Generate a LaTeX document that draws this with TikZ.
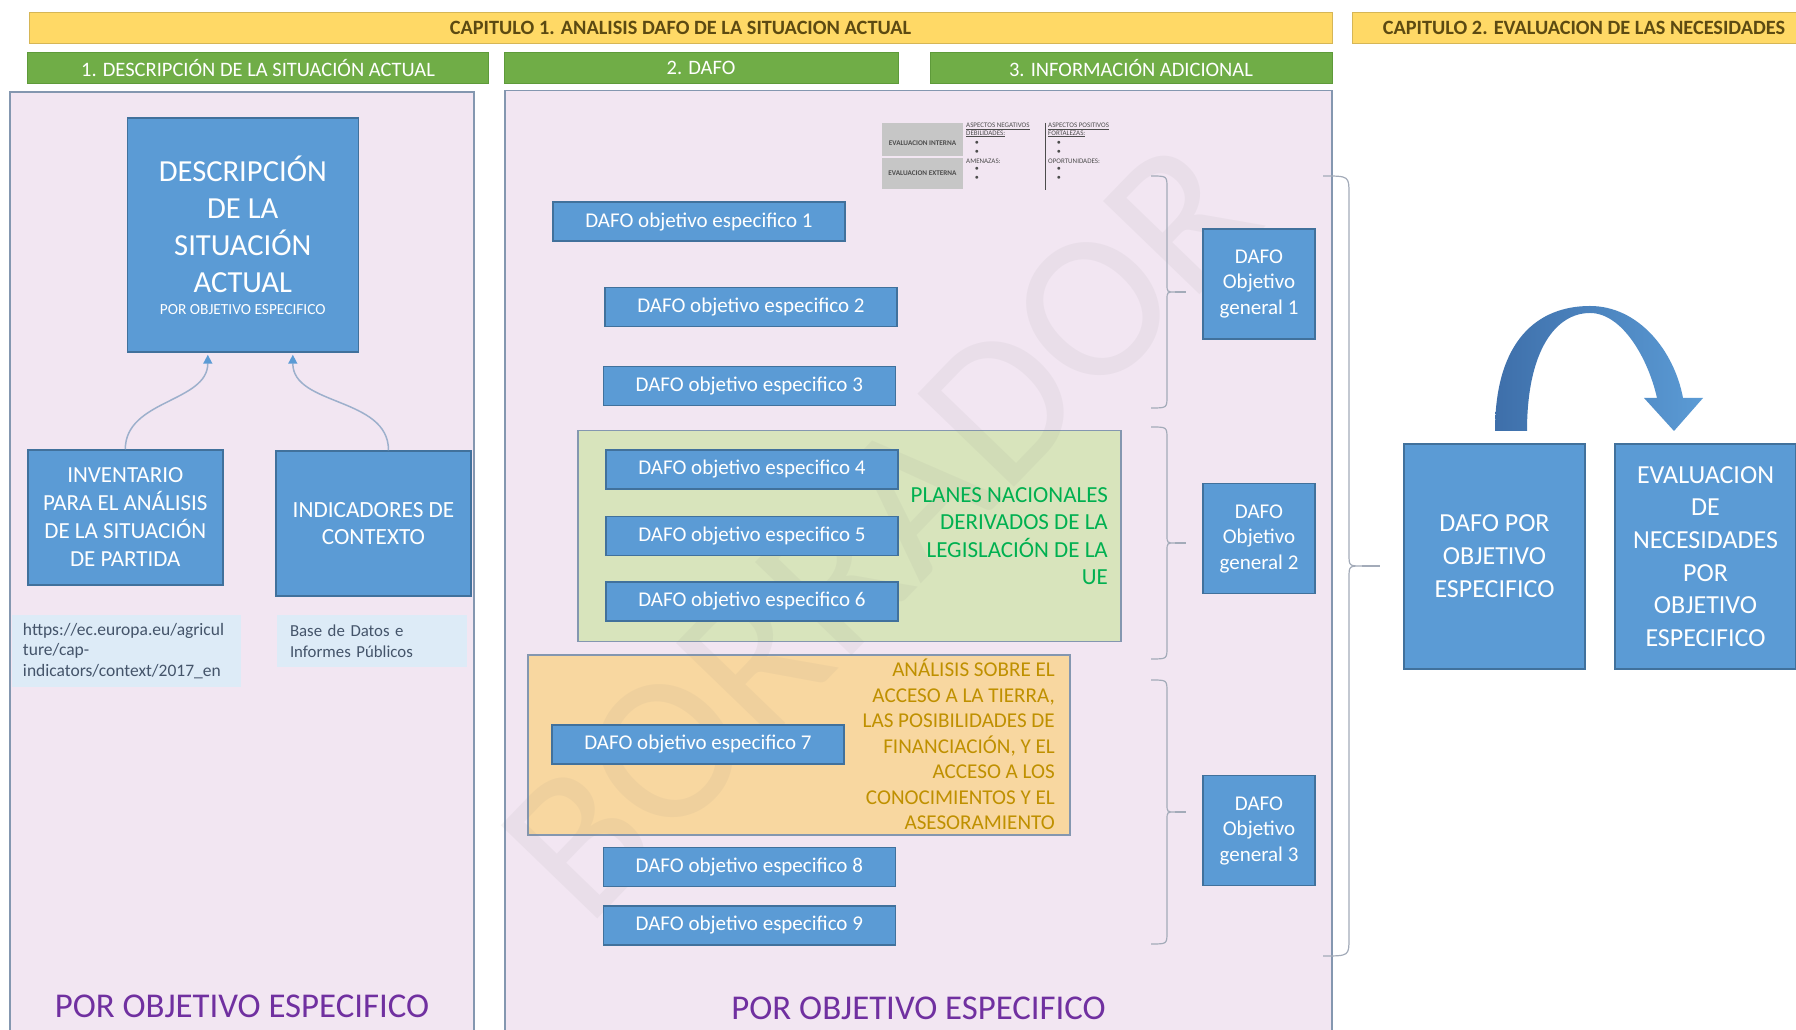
\documentclass[tikz,border=0pt]{standalone}
\usepackage{fontspec}
\setmainfont{Carlito}
\usetikzlibrary{arrows.meta}

\definecolor{boxblue}{HTML}{5B9BD5}
\definecolor{boxline}{HTML}{41719C}
\definecolor{darkblue}{HTML}{3E6FAA}
\definecolor{panelfill}{HTML}{F2E6F2}
\definecolor{panelline}{HTML}{8497B0}
\definecolor{capyellow}{HTML}{FFD966}
\definecolor{capline}{HTML}{D6B656}
\definecolor{captext}{HTML}{5C4A12}
\definecolor{secgreen}{HTML}{70AD47}
\definecolor{secline}{HTML}{5E9A3A}
\definecolor{lightbox}{HTML}{DDEBF7}
\definecolor{lighttext}{HTML}{44546A}
\definecolor{planfill}{HTML}{D8E4BC}
\definecolor{plantext}{HTML}{00B050}
\definecolor{accfill}{HTML}{F8D7A0}
\definecolor{acctext}{HTML}{BF9000}
\definecolor{porpurple}{HTML}{7030A0}
\definecolor{bracegray}{HTML}{A3ABB9}
\definecolor{linkblue}{HTML}{9DB0CC}

\begin{document}
\begin{tikzpicture}[x=1pt, y=1pt,
            bluebox/.style={draw=boxline, line width=1.5pt, fill=boxblue, text=white, inner sep=0pt, align=center},
            dafo/.style={bluebox, minimum width=292, minimum height=39, font=\fontsize{21}{25}\selectfont},
            general/.style={bluebox, minimum width=112, minimum height=110, font=\fontsize{21}{25.5}\selectfont},
            capbar/.style={draw=capline, line width=1pt, fill=capyellow, text=captext, minimum height=31, inner sep=0pt, font=\bfseries\fontsize{20.3}{22}\selectfont},
            secbar/.style={draw=secline, line width=1pt, fill=secgreen, text=white, minimum height=31, inner sep=0pt, font=\fontsize{20.5}{22}\selectfont},
            panel/.style={draw=panelline, line width=1.8pt, fill=panelfill, inner sep=0pt},
            region/.style={draw=panelline, line width=1.8pt, inner sep=0pt},
            source/.style={fill=lightbox, text=lighttext, inner ysep=0pt, align=left},
            bracket/.style={draw=bracegray, line width=1.2pt},
            link/.style={draw=linkblue, line width=1.5pt, shorten >=2pt, -{Triangle[length=9pt, width=9pt, color=boxblue]}},
            por/.style={text=porpurple, font=\fontsize{34.8}{40}\selectfont},
            thumb/.style={text=black!70, inner sep=0pt, font=\fontsize{7}{7.5}\selectfont}]
            \clip (0,0) rectangle (1796,1030);
            \fill[white] (0,0) rectangle (1796,1030);

            \node[capbar, minimum width=1303] (CAP1) at (680.5,1002) {CAPITULO 1. ANALISIS DAFO DE LA SITUACION ACTUAL};
            \node[capbar, minimum width=464] (CAP2) at (1584,1002) {CAPITULO 2. EVALUACION DE LAS NECESIDADES};

            \node[secbar, minimum width=461] (SEC1) at (258,962) {1. DESCRIPCIÓN DE LA SITUACIÓN ACTUAL};
            \node[secbar, minimum width=394] (SEC2) at (701,962) {2. DAFO};
            \node[secbar, minimum width=402] (SEC3) at (1131,962) {3. INFORMACIÓN ADICIONAL};

            \node[panel, minimum width=464, minimum height=960] (P1) at (242,458) {};
            \node[panel, minimum width=827, minimum height=960] (P2) at (918.5,459.5) {};

            \node[region, fill=planfill, minimum width=543, minimum height=211] (PLAN) at (849.5,494) {};
            \node[region, fill=accfill, minimum width=542, minimum height=180] (ACC) at (799,285) {};

            \node[rotate=46, text=gray, text opacity=0.075, font=\fontsize{209}{209}\selectfont] (WM) at (880,500) {BORRADOR};

            \fill[gray!45] (882,907) rectangle (963,873.5);
            \fill[gray!45] (882,872) rectangle (963,841);
            \draw[black!70, line width=0.8pt] (1045,907) -- (1045,840);
            \node[thumb, font=\bfseries\fontsize{7.2}{7.5}\selectfont] (EI) at (922.5,887) {EVALUACION INTERNA};
            \node[thumb, font=\bfseries\fontsize{7.2}{7.5}\selectfont] (EE) at (922.5,857) {EVALUACION EXTERNA};
            \node[thumb, anchor=north west, align=left] (NEG) at (966,907) {\underline{ASPECTOS NEGATIVOS}\\\underline{DEBILIDADES:}};
            \node[thumb, anchor=north west, align=left] (POS) at (1048,907) {\underline{ASPECTOS POSITIVOS}\\\underline{FORTALEZAS:}};
            \node[thumb, anchor=west] (AME) at (966,869) {AMENAZAS:};
            \node[thumb, anchor=west] (OPO) at (1048,869) {OPORTUNIDADES:};
            \foreach \bx in {977,1059}
                \foreach \by in {887,878,861,852}
                    \node[thumb] at (\bx,\by) {$\bullet$};

            \node[bluebox, minimum width=231, minimum height=234, font=\fontsize{30.6}{37}\selectfont] (DESC) at (242.8,795) {DESCRIPCIÓN\\DE LA\\SITUACIÓN\\ACTUAL\\[-15pt]{\fontsize{15.4}{16}\selectfont POR OBJETIVO ESPECIFICO}};
            \node[bluebox, minimum width=195, minimum height=135, font=\fontsize{23}{28}\selectfont] (INV) at (125.3,512.5) {INVENTARIO\\PARA EL ANÁLISIS\\DE LA SITUACIÓN\\DE PARTIDA};
            \node[bluebox, minimum width=195, minimum height=145, font=\fontsize{23.2}{27.5}\selectfont] (IND) at (373.5,506.5) {INDICADORES DE\\CONTEXTO};
            \node[source, text width=206, inner xsep=11.5, minimum height=72, font=\fontsize{17.5}{20.6}\selectfont] (URL) at (126,379) {https://ec.europa.eu/agricul\\ture/cap-\\indicators/context/2017\_en};
            \node[source, text width=164, inner xsep=13, minimum height=52, font=\fontsize{16.8}{20.6}\selectfont] (BD) at (372,389) {Base de Datos e\\Informes Públicos};

            \draw[link] (INV.north) to[out=90, in=-90] ([xshift=-35]DESC.south);
            \draw[link] ([xshift=15]IND.north) to[out=90, in=-90] ([xshift=50]DESC.south);

            \node[por] (POR1) at (242,24) {POR OBJETIVO ESPECIFICO};

            \node[dafo] (D1) at (699,808.4) {DAFO objetivo especifico 1};
            \node[dafo] (D2) at (751,723) {DAFO objetivo especifico 2};
            \node[dafo] (D3) at (749.3,644) {DAFO objetivo especifico 3};
            \node[dafo] (D4) at (752,560.5) {DAFO objetivo especifico 4};
            \node[dafo] (D5) at (752,494) {DAFO objetivo especifico 5};
            \node[dafo] (D6) at (752,428.5) {DAFO objetivo especifico 6};
            \node[dafo] (D7) at (698,285.5) {DAFO objetivo especifico 7};
            \node[dafo] (D8) at (749.3,163) {DAFO objetivo especifico 8};
            \node[dafo] (D9) at (749.3,104.5) {DAFO objetivo especifico 9};

            \node[anchor=east, align=right, text=plantext, inner sep=0pt, font=\fontsize{23}{27.5}\selectfont] (PN) at (1108,494) {PLANES NACIONALES\\DERIVADOS DE LA\\LEGISLACIÓN DE LA\\UE};
            \node[anchor=east, align=right, text=acctext, inner sep=0pt, font=\fontsize{21.1}{25.5}\selectfont] (AN) at (1055,285.5) {ANÁLISIS SOBRE EL\\ACCESO A LA TIERRA,\\LAS POSIBILIDADES DE\\FINANCIACIÓN, Y EL\\ACCESO A LOS\\CONOCIMIENTOS Y EL\\ASESORAMIENTO};

            \node[general] (OG1) at (1259,746) {DAFO\\Objetivo\\general 1};
            \node[general] (OG2) at (1259,491.5) {DAFO\\Objetivo\\general 2};
            \node[general] (OG3) at (1259,199.5) {DAFO\\Objetivo\\general 3};

            \foreach \yt/\yb in {854/622, 603/371, 350/86} {
                \pgfmathsetmacro\ym{(\yt+\yb)/2}
                \draw[bracket] (1151,\yt) .. controls (1167,\yt) .. (1167,\yt-12) -- (1167,\ym+8) .. controls (1167,\ym) .. (1175,\ym) .. controls (1167,\ym) .. (1167,\ym-8) -- (1167,\yb+12) .. controls (1167,\yb) .. (1151,\yb);
                \draw[bracket] (1175,\ym) -- (1186,\ym);
            }
            \draw[bracket] (1323,854) .. controls (1349,854) .. (1349,836) -- (1349,476) .. controls (1349,464) .. (1362,464) .. controls (1349,464) .. (1349,452) -- (1349,92) .. controls (1349,74) .. (1323,74);
            \draw[bracket] (1362,464) -- (1380,464);

            \node[por] (POR2) at (918.6,22) {POR OBJETIVO ESPECIFICO};

            \node[bluebox, minimum width=181, minimum height=225, font=\fontsize{26}{33}\selectfont] (DPOR) at (1494.5,473.5) {DAFO POR\\OBJETIVO\\ESPECIFICO};
            \node[bluebox, minimum width=181, minimum height=225, font=\fontsize{26}{32.6}\selectfont] (EVAL) at (1705.5,473.5) {EVALUACION\\DE\\NECESIDADES\\POR\\OBJETIVO\\ESPECIFICO};

            \shade[left color=darkblue, right color=boxblue] (1495,599) .. controls (1495,690) and (1538,724) .. (1590,724) .. controls (1638,724) and (1674,680) .. (1683,632) -- (1703,632) -- (1674,599) -- (1644,632) -- (1657,632) .. controls (1648,672) and (1622,717) .. (1590,717) .. controls (1556,717) and (1527,680) .. (1527,599) -- cycle;
        \end{tikzpicture}
\end{document}
